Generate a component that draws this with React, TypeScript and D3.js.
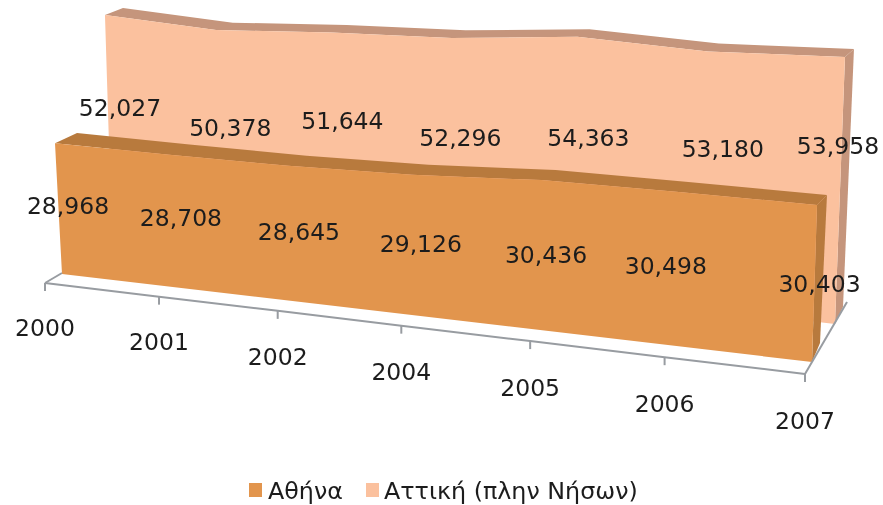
import React from 'react';
import * as d3 from 'd3';

// chart values
const categories = ['2000', '2001', '2002', '2004', '2005', '2006', '2007'];
const athens = [28968, 28708, 28645, 29126, 30436, 30498, 30403];
const attica = [52027, 50378, 51644, 52296, 54363, 53180, 53958];
const seriesNames = ['Αθήνα', 'Αττική (πλην Νήσων)'];

// label shifts from the middle of each area, excel placed them by hand
const athensNudgeX = [9.5, 9, 9, 8, 5, -9, 5];
const athensNudgeY = [-3, -3, -2, -2, -1, -3, 0];
const atticaNudgeX = [11.5, 12, 10, 9, 13, 18, -2];
const atticaNudgeY = [-19.5, -14, -29, -21, -28, -31, -45];

const FONT = '"DejaVu Sans", Verdana, sans-serif';
const TEXT = '#1c1c1c';

type Pt = [number, number];
type Plane = { baseL: Pt; baseR: Pt; topL: Pt; topR: Pt };

// the picture is a 3d chart, each plane is a wall of the depth with the
// pixels of value 0 and of value 60000 at both ends
const athensFront: Plane = { baseL: [62, 274], baseR: [812, 362], topL: [47.5, 3], topR: [821.9, 52] };
const athensBack: Plane = { baseL: [83, 264], baseR: [820, 343], topL: [70.6, -7.3], topR: [833.8, 51] };
const atticaFront: Plane = { baseL: [112, 240], baseR: [835, 324], topL: [103.9, -19.5], topR: [846.1, 27.1] };
const atticaBack: Plane = { baseL: [130, 228], baseR: [843, 307], topL: [121.9, -25.7], topR: [855.2, 20.1] };

const xPos = d3.scalePoint<string>().domain(categories).range([0, 1]);
const valueScale = d3.scaleLinear().domain([0, 60000]).range([0, 1]);

// foreshortening along the x axis
const warp = (t: number) => t / (1.133 * (1 - t) + t);
const mix = (a: Pt, b: Pt, t: number): Pt => [a[0] + (b[0] - a[0]) * t, a[1] + (b[1] - a[1]) * t];

function project(plane: Plane, cat: string, value: number): Pt {
  const t = warp(xPos(cat) as number);
  return mix(mix(plane.baseL, plane.baseR, t), mix(plane.topL, plane.topR, t), valueScale(value));
}

const line = d3.line<Pt>().x(d => d[0]).y(d => d[1]);

function Area3D({ values, front, back, faceColor, topColor }: {
  values: number[]; front: Plane; back: Plane; faceColor: string; topColor: string;
}) {
  const last = categories[categories.length - 1];
  const frontTop = categories.map((c, i) => project(front, c, values[i]));
  const backTop = categories.map((c, i) => project(back, c, values[i]));
  const face = [
    project(front, categories[0], 0),
    ...frontTop,
    project(front, last, 0),
  ];
  const top = [...frontTop, ...[...backTop].reverse()];
  const side = [
    frontTop[frontTop.length - 1],
    backTop[backTop.length - 1],
    project(back, last, 0),
    project(front, last, 0),
  ];
  return (
    <g>
      <path d={line(side) + 'Z'} fill={topColor} />
      <path d={line(top) + 'Z'} fill={topColor} />
      <path d={line(face) + 'Z'} fill={faceColor} />
    </g>
  );
}

export default function App() {
  const axisPlane: Plane = { baseL: [45, 283], baseR: [805, 374], topL: [45, 283], topR: [805, 374] };
  const axisPts = categories.map(c => project(axisPlane, c, 0));
  const axisColor = '#989ca1';
  const first = axisPts[0];
  const end = axisPts[axisPts.length - 1];

  const midLabel = (plane: Plane, values: number[], nx: number[], ny: number[]) =>
    categories.map((c, i) => {
      const p = project(plane, c, values[i] / 2);
      return { x: p[0] + nx[i], y: p[1] + ny[i], text: d3.format(',')(values[i]) };
    });
  const labels = [
    ...midLabel(atticaFront, attica, atticaNudgeX, atticaNudgeY),
    ...midLabel(athensFront, athens, athensNudgeX, athensNudgeY),
  ];

  return (
    <svg width={883} height={505} style={{ position: 'absolute', left: 0, top: 0, background: '#fff' }}>
      {/* the source is a soft, rescaled screenshot */}
      <defs>
        <filter id="soft" x="0" y="0" width="100%" height="100%" filterUnits="userSpaceOnUse">
          <feGaussianBlur stdDeviation="0.45" />
        </filter>
      </defs>
      <g filter="url(#soft)">
        <Area3D values={attica} front={atticaFront} back={atticaBack} faceColor="#fbc19e" topColor="#c5957b" />
        <Area3D values={athens} front={athensFront} back={athensBack} faceColor="#e2954e" topColor="#b87a3e" />

        {/* axis and floor edges */}
        <g stroke={axisColor} strokeWidth={2} fill="none">
          <path d={line(axisPts) as string} />
          <path d={line([first, [62, 273]]) as string} />
          <path d={line([end, [847, 302]]) as string} />
          {axisPts.map((p, i) => (
            <path key={i} d={line([p, [p[0], p[1] + 8]]) as string} />
          ))}
        </g>

        <g fontFamily={FONT} fontSize={23.5} fill={TEXT} textAnchor="middle">
          {axisPts.map((p, i) => (
            <text key={categories[i]} x={p[0]} y={p[1] + 45 + (i / 6) * 2} dy="0.36em">{categories[i]}</text>
          ))}
          {labels.map((l, i) => (
            <text key={i} x={l.x} y={l.y} dy="0.36em">{l.text}</text>
          ))}
        </g>

        {/* legend */}
        <g fontFamily={FONT} fontSize={23.8} fill={TEXT}>
          <rect x={249} y={483} width={13} height={14} fill="#e2954e" />
          <text x={268} y={498.5}>{seriesNames[0]}</text>
          <rect x={366} y={483} width={13} height={14} fill="#fbc19e" />
          <text x={384} y={498.5}>{seriesNames[1]}</text>
        </g>
      </g>
    </svg>
  );
}
